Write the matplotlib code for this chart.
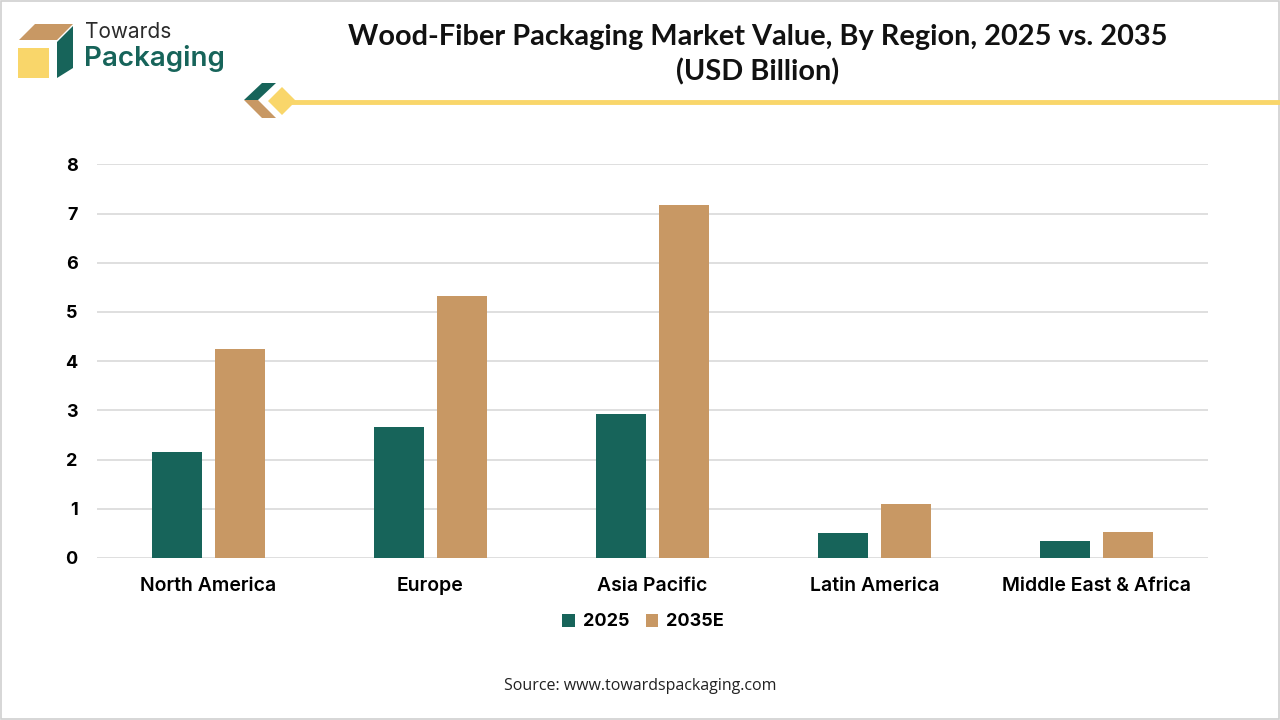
import matplotlib
matplotlib.use("Agg")
import matplotlib.pyplot as plt
import numpy as np
from matplotlib.patches import Polygon, Rectangle
from matplotlib.lines import Line2D

regions = ["North America", "Europe", "Asia Pacific", "Latin America", "Middle East & Africa"]
values_2025 = [2.15, 2.66, 2.93, 0.51, 0.35]
values_2035 = [4.25, 5.32, 7.17, 1.10, 0.53]
series_labels = ["2025", "2035E"]
yticks = [0, 1, 2, 3, 4, 5, 6, 7, 8]

GREEN = "#17645A"
BROWN = "#C89864"
YELLOW = "#F9D66A"

fig = plt.figure(figsize=(12.8, 7.2), dpi=100)
fig.patch.set_facecolor("white")

W, H = 1280, 720
def fx(px):
    return px / W
def fy(py):
    return 1 - py / H

ax = fig.add_axes([fx(97), fy(558), (1208 - 97) / W, (558 - 164.3) / H])
x = np.arange(len(regions))
ax.bar(x - 0.142, values_2025, width=0.225, color=GREEN, label=series_labels[0], zorder=3)
ax.bar(x + 0.142, values_2035, width=0.225, color=BROWN, label=series_labels[1], zorder=3)
ax.set_xlim(-0.5, len(regions) - 0.5)
ax.set_ylim(0, 8)
ax.set_yticks(yticks)
ax.set_yticklabels([str(t) for t in yticks], fontsize=13, fontweight="bold", family="Inter")
ax.set_xticks(x)
ax.set_xticklabels(regions, fontsize=14, fontweight="semibold", family="Inter")
ax.tick_params(axis="both", length=0)
ax.tick_params(axis="y", pad=14)
ax.tick_params(axis="x", pad=14)
ax.grid(axis="y", color="#D9D9D9", linewidth=1.2, zorder=0)
for s in ax.spines.values():
    s.set_visible(False)

leg = fig.legend(loc="center", bbox_to_anchor=(fx(643), fy(622)), ncol=2, frameon=False,
                 prop={"family": "Inter", "weight": "bold", "size": 13},
                 handlelength=0.7, handleheight=0.7, handletextpad=0.45, columnspacing=0.9)

# Title
fig.text(fx(758), fy(37), "Wood-Fiber Packaging Market Value, By Region, 2025 vs. 2035",
         ha="center", va="center", fontsize=20.8, fontweight="bold", family="Lato", color="#111111")
fig.text(fx(758), fy(72), "(USD Billion)",
         ha="center", va="center", fontsize=20.8, fontweight="bold", family="Lato", color="#111111")

# Source
fig.text(fx(640), fy(686), "Source: www.towardspackaging.com", ha="center", va="center",
         fontsize=11.5, family="Open Sans", color="#222222")

# Logo
def poly(pts, color):
    fig.patches.append(Polygon([(fx(a), fy(b)) for a, b in pts], closed=True,
                               transform=fig.transFigure, facecolor=color, edgecolor="none"))

poly([(19, 40), (35, 24), (73, 24), (57, 40)], BROWN)
poly([(18, 48), (49, 48), (49, 78), (18, 78)], YELLOW)
poly([(57, 42), (73, 26), (73, 68), (57, 78)], GREEN)
fig.text(fx(85), fy(32), "Towards", ha="left", va="center", fontsize=15, family="Inter",
         color="#2B2B2B")
fig.text(fx(84), fy(58), "Packaging", ha="left", va="center", fontsize=20, family="Inter",
         fontweight="semibold", color=GREEN)

# Header line and icon
fig.add_artist(Line2D([fx(285), fx(1280)], [fy(102), fy(102)], transform=fig.transFigure,
                      color=YELLOW, linewidth=3.5))
poly([(244, 100), (262, 83), (276, 83), (258, 100)], GREEN)
poly([(244, 100), (258, 100), (276, 118), (262, 118)], BROWN)
poly([(282, 87), (296, 101), (282, 115), (268, 101)], YELLOW)

# Border
fig.patches.append(Rectangle((0.0008, 0.0012), 0.9984, 0.9976, transform=fig.transFigure,
                             facecolor="none", edgecolor="#D0D0D0", linewidth=1.2))

fig.savefig("out.png", dpi=100)
